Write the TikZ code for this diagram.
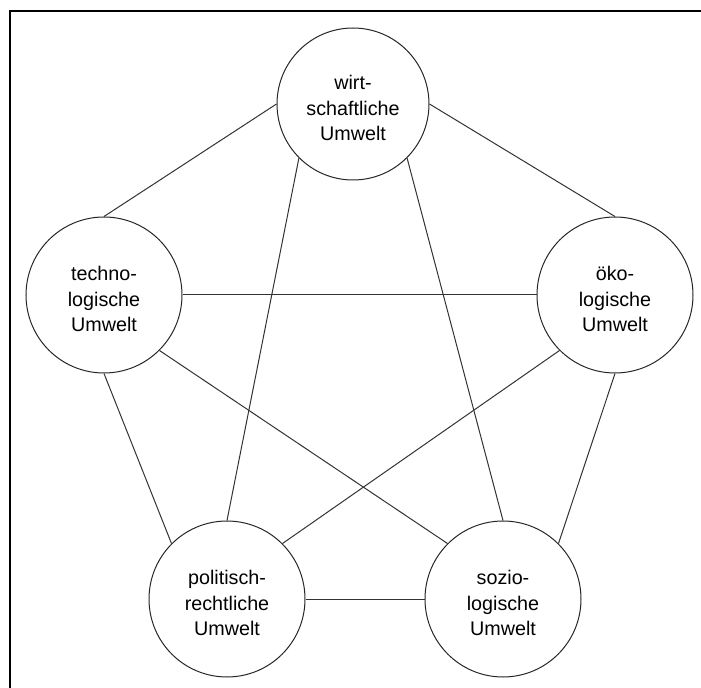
\documentclass[tikz,border=0pt]{standalone}
\usepackage{fontspec}
\setmainfont{Liberation Sans}
\begin{document}
\begin{tikzpicture}[x=0.75pt,y=-0.75pt,
  umwelt/.style={circle,draw=black!85,line width=0.75pt,inner sep=0pt,minimum size=117pt},
  umwelttext/.style={align=center,inner sep=0pt,font=\fontsize{14.8}{19.1}\selectfont,yshift=-3pt},
  link/.style={draw=black!80,line width=0.75pt}]
\useasboundingbox (0,0) rectangle (701,688);
% frame
\draw[line width=1.5pt] (10,688) -- (10,11) -- (701,11);

% the five environments
\node[umwelt,minimum size=114pt] (w) at (353,104) {};
\node[umwelt] (t) at (104,295) {};
\node[umwelt] (o) at (615,295) {};
\node[umwelt] (p) at (227,599) {};
\node[umwelt] (s) at (503,599) {};

\node[umwelttext] (wt) at (w) {wirt-\\schaftliche\\Umwelt};
\node[umwelttext] (tt) at (t) {techno-\\logische\\Umwelt};
\node[umwelttext] (ot) at (o) {öko-\\logische\\Umwelt};
\node[umwelttext] (pt) at (p) {politisch-\\rechtliche\\Umwelt};
\node[umwelttext] (st) at (s) {sozio-\\logische\\Umwelt};

% every environment is linked with every other one
\draw[link] (w.180) -- (t.90);
\draw[link] (w.0) -- (o.90);
\draw[link] (w.225) -- (p.90);
\draw[link] (w.315) -- (s.90);
\draw[link] (t.0) -- (o.180);
\draw[link] (t.270) -- (p.135);
\draw[link] (t.315) -- (s.135);
\draw[link] (o.225) -- (p.45);
\draw[link] (o.270) -- (s.45);
\draw[link] (p.0) -- (s.180);
\end{tikzpicture}
\end{document}
